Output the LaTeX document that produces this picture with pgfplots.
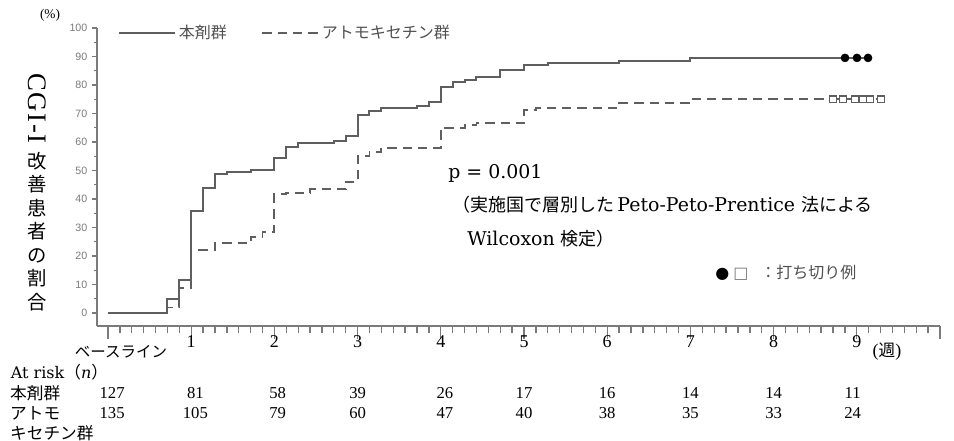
\documentclass[border=0pt]{standalone}
\usepackage{fontspec}
\usepackage{pgfplots}
\pgfplotsset{compat=1.18}
\newfontfamily\cjk{Noto Sans CJK JP}
\newfontfamily\tickfont{Liberation Sans}
\newfontfamily\sym{DejaVu Sans}
\newfontfamily\dser{DejaVu Serif}
\newfontfamily\lser{Liberation Serif}
\definecolor{curve}{HTML}{5F5F5F}
\definecolor{axisgray}{HTML}{7A7A7A}
\definecolor{lbl}{HTML}{505050}
\begin{document}
\begin{tikzpicture}
\begin{axis}[
  scale only axis, width=632.3pt, height=223.5pt,
  xmin=-0.132, xmax=10, ymin=-4.56, ymax=100,
  axis x line=bottom, axis y line=left,
  axis line style={-, axisgray, line width=1.2pt},
  xtick={0,...,10}, xticklabels={,1,2,3,4,5,6,7,8,9,},
  minor x tick num=6,
  ytick={0,10,...,100}, minor y tick num=1,
  tick align=outside,
  major tick length=3.75pt, minor tick length=2.25pt,
  xtick style={/pgfplots/major tick length=9.75pt, /pgfplots/minor tick length=5.25pt},
  tick style={axisgray, line width=1pt},
  /pgf/number format/assume math mode=true,
  yticklabel style={font=\tickfont\fontsize{8}{8}\selectfont, text=axisgray},
  xticklabel style={font=\lser\fontsize{13.5}{14}\selectfont},
  clip=false,
  legend style={draw=none, fill=none, at={(0.02,0.983)}, anchor=west,
    legend columns=2, font=\cjk\fontsize{12}{12}\selectfont, text=lbl,
    /tikz/every even column/.append style={column sep=24pt}},
  legend cell align=left,
  legend image code/.code={\draw[#1] (0pt,0pt) -- (42pt,0pt);},
]
\addplot[const plot, curve, line width=1.5pt] coordinates {
(0,0) (0.7143,4.9) (0.8571,11.6) (1,35.8) (1.1429,43.9) (1.2857,48.8) (1.4286,49.5)
(1.7143,50.2) (2,54.4) (2.1429,58.2) (2.2857,59.6) (2.7143,60.4) (2.8571,62.1)
(3,69.5) (3.1429,70.9) (3.2857,71.9) (3.7143,72.6) (3.8571,74.0) (4,79.3)
(4.1429,81.0) (4.2857,81.9) (4.4286,82.8) (4.7143,85.3) (5,87.0) (5.2857,87.7)
(6.1429,88.4) (7,89.5) (9.135,89.5)};
\addlegendentry{本剤群}
\addplot[const plot, curve, line width=1.4pt, dash pattern=on 7pt off 4.5pt] coordinates {
(0,0) (0.7143,1.9) (0.8571,8.8) (1,22.1) (1.2857,24.4) (1.7143,26.7) (1.8571,28.4)
(2,41.6) (2.1429,42.1) (2.4286,43.4) (2.8571,46.1) (3,55.1) (3.1429,56.5) (3.2857,58.0)
(4,64.9) (4.2857,66.0) (4.4286,66.7) (5,71.2) (5.1429,72.0) (6.1429,73.6) (7,75.0)
(9.291,75.0)};
\addlegendentry{アトモキセチン群}
\addplot[only marks, mark=*, mark size=3pt, black, forget plot] coordinates {
(8.858,89.5) (9.002,89.5) (9.135,89.5)};
\addplot[only marks, mark=square*, mark size=2.5pt, mark options={draw=curve, fill=white, line width=1.1pt}, forget plot] coordinates {
(8.714,75.0) (8.834,75.0) (8.978,75.0) (9.075,75.0) (9.159,75.0) (9.291,75.0)};

% annotations
\node[anchor=west, font=\dser\fontsize{14.2}{15}\selectfont, inner sep=0] at (axis cs:4.087,49.1) {p = 0.001};
\node[anchor=west, font=\dser\fontsize{14.2}{15}\selectfont, inner sep=0] at (axis cs:4.135,37.9) {{\cjk\fontsize{13.5}{15}\selectfont （実施国で層別した}\,Peto-Peto-Prentice {\cjk\fontsize{13.5}{15}\selectfont 法による}};
\node[anchor=west, font=\dser\fontsize{14.2}{15}\selectfont, inner sep=0] at (axis cs:4.315,26.0) {Wilcoxon {\cjk\fontsize{13.5}{15}\selectfont 検定）}};
\node[anchor=west, font=\fontsize{12}{12}\selectfont, inner sep=0, text=lbl] at (axis cs:7.296,14.0) {{\sym\color{black}●}\hspace{3pt}{\sym\bfseries\color{axisgray}□}\hspace{9pt}{\cjk ：打ち切り例}};

% axis labels
\node[font=\lser\fontsize{10}{10}\selectfont] at (axis cs:-0.697,104.56) {(\%)};
\node[rotate=-90, font=\lser\fontsize{20}{20}\selectfont, inner sep=0] at (axis cs:-0.853,71.75) {C\kern1.2pt G\kern1.2pt I\kern1.2pt -\kern1.2pt I};
\node[align=center, font=\cjk\fontsize{14.5}{17.6}\selectfont, inner sep=0] at (axis cs:-0.853,28.6) {改\\善\\患\\者\\の\\割\\合};
\node[font=\cjk\fontsize{11.6}{12}\selectfont] at (axis cs:0.156,-13.7) {ベースライン};
\node[font=\lser\fontsize{13.5}{14}\selectfont] at (axis cs:9.363,-13.7) {({\cjk\fontsize{12.5}{14}\selectfont 週})};

% at risk table
\node[anchor=west, font=\dser\fontsize{12}{13}\selectfont, inner sep=0] at (axis cs:-1.170,-20.7) {At risk{\cjk\fontsize{12.5}{13}\selectfont （}\textit{n}{\cjk\fontsize{12.5}{13}\selectfont ）}};
\node[anchor=west, font=\cjk\fontsize{12.5}{13}\selectfont, inner sep=0] at (axis cs:-1.178,-28.07) {本剤群};
\node[anchor=west, font=\cjk\fontsize{12.5}{13}\selectfont, inner sep=0] at (axis cs:-1.178,-35.09) {アトモ};
\node[anchor=west, font=\cjk\fontsize{12.5}{13}\selectfont, inner sep=0] at (axis cs:-1.178,-42.1) {キセチン群};
\begin{scope}[every node/.style={font=\lser\fontsize{12.5}{13}\selectfont, inner sep=0}]
\node at (axis cs:0.05,-28.07) {127};
\node at (axis cs:1.05,-28.07) {81};
\node at (axis cs:2.04,-28.07) {58};
\node at (axis cs:3,-28.07) {39};
\node at (axis cs:4.05,-28.07) {26};
\node at (axis cs:5,-28.07) {17};
\node at (axis cs:6,-28.07) {16};
\node at (axis cs:7,-28.07) {14};
\node at (axis cs:8,-28.07) {14};
\node at (axis cs:8.95,-28.07) {11};
\node at (axis cs:0.05,-35.09) {135};
\node at (axis cs:1.05,-35.09) {105};
\node at (axis cs:2.04,-35.09) {79};
\node at (axis cs:3,-35.09) {60};
\node at (axis cs:4.05,-35.09) {47};
\node at (axis cs:5,-35.09) {40};
\node at (axis cs:6,-35.09) {38};
\node at (axis cs:7,-35.09) {35};
\node at (axis cs:8,-35.09) {33};
\node at (axis cs:8.95,-35.09) {24};
\end{scope}
\coordinate (BL) at (axis cs:-1.298,-44.91);
\coordinate (TR) at (axis cs:10.168,109.82);
\end{axis}
\pgfresetboundingbox
\path[use as bounding box] (BL) rectangle (TR);
\end{tikzpicture}
\end{document}
